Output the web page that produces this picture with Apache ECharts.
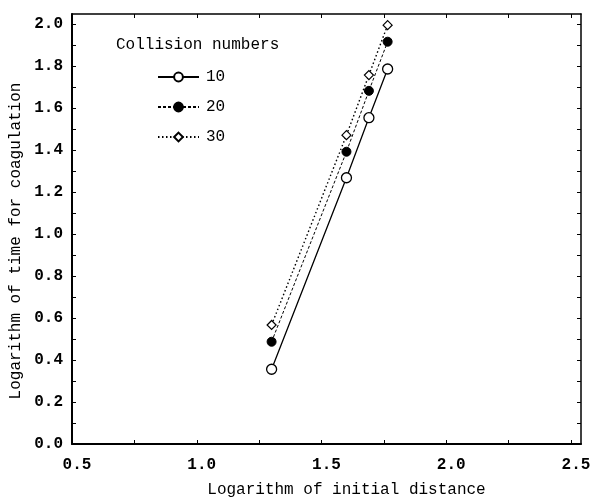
<!DOCTYPE html>
<html>
<head>
<meta charset="utf-8">
<script src="https://cdn.jsdelivr.net/npm/echarts@6/dist/echarts.min.js"></script>
<style>
  html, body { margin: 0; padding: 0; background: #fff; }
  #chart { width: 594px; height: 500px; }
</style>
</head>
<body>
<div id="chart"></div>
<script>
// Logarithm of initial distance (x) for each run
const logDistance = [1.30, 1.60, 1.69, 1.765];
// Logarithm of time for coagulation, one list per collision number
const series10 = [0.356, 1.268, 1.554, 1.786];
const series20 = [0.487, 1.392, 1.682, 1.916];
const series30 = [0.567, 1.471, 1.757, 1.995];
const collisionNumbers = ['10', '20', '30'];

// Tick positions and labels
const xMajorTicks = [0.5, 1.0, 1.5, 2.0, 2.5];
const xMinorTicks = [0.5, 0.75, 1.0, 1.25, 1.5, 1.75, 2.0, 2.25, 2.5];
const yMajorTicks = [0, 0.2, 0.4, 0.6, 0.8, 1.0, 1.2, 1.4, 1.6, 1.8, 2.0];
const yMinorTicks = [0, 0.1, 0.2, 0.3, 0.4, 0.5, 0.6, 0.7, 0.8, 0.9, 1.0,
                     1.1, 1.2, 1.3, 1.4, 1.5, 1.6, 1.7, 1.8, 1.9, 2.0];

const FONT = '"Liberation Mono", "DejaVu Sans Mono", monospace';
const INK = '#000';
const TEXT = { fontFamily: FONT, fontSize: 16, fontWeight: 'bold', color: INK };

function pairs(ys) {
  return logDistance.map((x, i) => [x, ys[i]]);
}

const chart = echarts.init(document.getElementById('chart'));

const frameAxis = (extra) => Object.assign({
  type: 'value',
  axisLine: { show: true, onZero: false, lineStyle: { color: INK, width: 1.5 } },
  splitLine: { show: false },
  axisTick: { show: true, inside: true, length: 4, lineStyle: { color: INK, width: 1 } },
}, extra);

chart.setOption({
  animation: false,
  backgroundColor: '#fff',
  title: {
    text: 'Collision numbers',
    left: 111,
    top: 32,
    textStyle: Object.assign({}, TEXT, { fontWeight: 'normal' })
  },
  legend: {
    orient: 'vertical',
    left: 152,
    top: 64,
    itemWidth: 41,
    itemHeight: 11,
    itemGap: 14,
    data: collisionNumbers,
    textStyle: Object.assign({}, TEXT, { fontWeight: 'normal', padding: [0, 0, 0, 2] })
  },
  grid: { left: 72, right: 13, top: 14, bottom: 56, containLabel: false, outerBoundsMode: 'none' },
  xAxis: [
    frameAxis({
      position: 'bottom',
      min: 0.5, max: 2.54, interval: 0.5,
      axisLine: { show: true, onZero: false, lineStyle: { color: INK, width: 2 } },
      axisTick: { show: true, inside: true, length: 4, customValues: xMinorTicks, lineStyle: { color: INK, width: 1 } },
      axisLabel: Object.assign({
        show: true, margin: 13, customValues: xMajorTicks,
        formatter: v => v.toFixed(1),
        padding: [0, 0, 0, 10]
      }, TEXT),
      name: 'Logarithm of initial distance',
      nameLocation: 'middle',
      nameGap: 38,
      nameTextStyle: Object.assign({}, TEXT, { fontWeight: 'normal', padding: [0, 0, 0, 40] })
    }),
    frameAxis({
      position: 'top',
      min: 0.5, max: 2.54, interval: 0.5,
      axisTick: { show: true, inside: true, length: 4, customValues: xMinorTicks, lineStyle: { color: INK, width: 1 } },
      axisLabel: { show: false }
    })
  ],
  yAxis: [
    frameAxis({
      position: 'left',
      min: 0, max: 2.048, interval: 0.2,
      axisLine: { show: true, onZero: false, lineStyle: { color: INK, width: 2 } },
      axisTick: { show: true, inside: true, length: 4, customValues: yMinorTicks, lineStyle: { color: INK, width: 1 } },
      axisLabel: Object.assign({
        show: true, margin: 9, customValues: yMajorTicks,
        formatter: v => v.toFixed(1)
      }, TEXT),
      name: 'Logarithm of time for coagulation',
      nameLocation: 'middle',
      nameGap: 47,
      nameTextStyle: Object.assign({}, TEXT, { fontWeight: 'normal', padding: [0, 24, 0, 0] })
    }),
    frameAxis({
      position: 'right',
      min: 0, max: 2.048, interval: 0.2,
      axisTick: { show: true, inside: true, length: 4, customValues: yMinorTicks, lineStyle: { color: INK, width: 1 } },
      axisLabel: { show: false }
    })
  ],
  series: [
    {
      name: '10', type: 'line', data: pairs(series10),
      symbol: 'circle', symbolSize: 10,
      itemStyle: { color: '#fff', borderColor: INK, borderWidth: 1.3 },
      lineStyle: { color: INK, width: 1.3, type: 'solid' },
      z: 3
    },
    {
      name: '20', type: 'line', data: pairs(series20),
      symbol: 'circle', symbolSize: 9,
      itemStyle: { color: INK, borderColor: INK, borderWidth: 1 },
      lineStyle: { color: INK, width: 1, type: [3, 2] },
      z: 4
    },
    {
      name: '30', type: 'line', data: pairs(series30),
      symbol: 'diamond', symbolSize: [9, 9],
      itemStyle: { color: '#fff', borderColor: INK, borderWidth: 1.2 },
      lineStyle: { color: INK, width: 1.4, type: [1.5, 2.5] },
      z: 5
    }
  ]
});
</script>
</body>
</html>
